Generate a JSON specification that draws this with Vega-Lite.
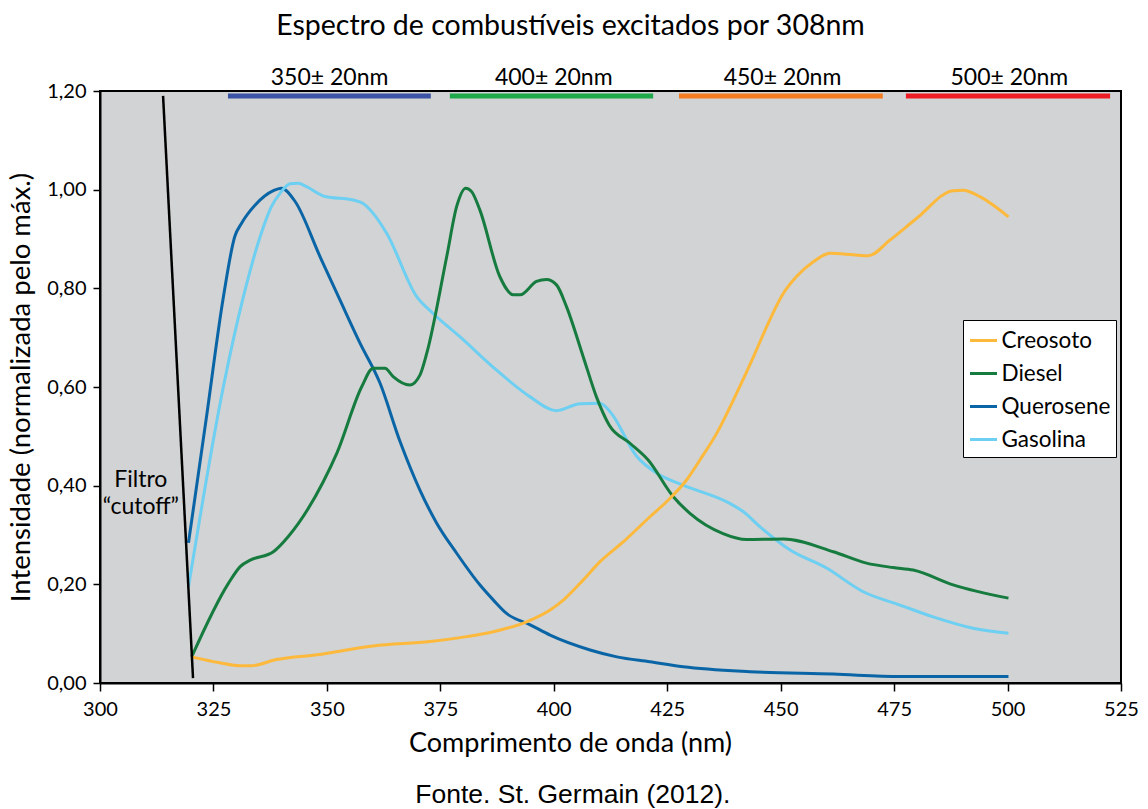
{
  "$schema": "https://vega.github.io/schema/vega-lite/v6.json",
  "width": 1021,
  "height": 592,
  "autosize": {"type": "none"},
  "padding": {"left": 100, "top": 91, "right": 27, "bottom": 126},
  "background": "white",
  "title": {
    "text": "Espectro de combustíveis excitados por 308nm",
    "font": "Lato",
    "fontSize": 28.5,
    "fontWeight": "normal",
    "color": "black",
    "anchor": "middle",
    "frame": "group",
    "dx": -40,
    "offset": 27
  },
  "config": {
    "view": {"fill": "#D1D3D4", "stroke": "black", "strokeWidth": 2},
    "axis": {
      "labelFont": "Lato",
      "titleFont": "Lato",
      "labelColor": "black",
      "titleColor": "black",
      "domainColor": "black",
      "tickColor": "black",
      "grid": false,
      "titleFontWeight": "normal"
    }
  },
  "datasets": {
    "spectra": [
      {"comb": "Querosene", "nm": 319.5, "int": 0.284},
      {"comb": "Querosene", "nm": 323.4, "int": 0.535},
      {"comb": "Querosene", "nm": 327.2, "int": 0.783},
      {"comb": "Querosene", "nm": 329.7, "int": 0.905},
      {"comb": "Querosene", "nm": 331.2, "int": 0.932},
      {"comb": "Querosene", "nm": 334.2, "int": 0.969},
      {"comb": "Querosene", "nm": 338.2, "int": 0.998},
      {"comb": "Querosene", "nm": 340.0, "int": 1.003},
      {"comb": "Querosene", "nm": 343.0, "int": 0.976},
      {"comb": "Querosene", "nm": 348.5, "int": 0.864},
      {"comb": "Querosene", "nm": 352.9, "int": 0.776},
      {"comb": "Querosene", "nm": 357.3, "int": 0.689},
      {"comb": "Querosene", "nm": 361.7, "int": 0.608},
      {"comb": "Querosene", "nm": 366.1, "int": 0.490},
      {"comb": "Querosene", "nm": 370.5, "int": 0.391},
      {"comb": "Querosene", "nm": 374.2, "int": 0.324},
      {"comb": "Querosene", "nm": 378.6, "int": 0.263},
      {"comb": "Querosene", "nm": 383.7, "int": 0.199},
      {"comb": "Querosene", "nm": 386.7, "int": 0.168},
      {"comb": "Querosene", "nm": 389.6, "int": 0.141},
      {"comb": "Querosene", "nm": 394.8, "int": 0.118},
      {"comb": "Querosene", "nm": 399.2, "int": 0.097},
      {"comb": "Querosene", "nm": 408.0, "int": 0.067},
      {"comb": "Querosene", "nm": 413.9, "int": 0.053},
      {"comb": "Querosene", "nm": 421.2, "int": 0.043},
      {"comb": "Querosene", "nm": 428.5, "int": 0.033},
      {"comb": "Querosene", "nm": 443.2, "int": 0.023},
      {"comb": "Querosene", "nm": 461.6, "int": 0.018},
      {"comb": "Querosene", "nm": 476.3, "int": 0.013},
      {"comb": "Querosene", "nm": 500.2, "int": 0.013},
      {"comb": "Gasolina", "nm": 319.5, "int": 0.195},
      {"comb": "Gasolina", "nm": 327.2, "int": 0.601},
      {"comb": "Gasolina", "nm": 331.6, "int": 0.783},
      {"comb": "Gasolina", "nm": 335.3, "int": 0.905},
      {"comb": "Gasolina", "nm": 337.8, "int": 0.966},
      {"comb": "Gasolina", "nm": 339.7, "int": 0.993},
      {"comb": "Gasolina", "nm": 341.9, "int": 1.012},
      {"comb": "Gasolina", "nm": 343.7, "int": 1.013},
      {"comb": "Gasolina", "nm": 345.5, "int": 1.006},
      {"comb": "Gasolina", "nm": 349.6, "int": 0.986},
      {"comb": "Gasolina", "nm": 355.8, "int": 0.979},
      {"comb": "Gasolina", "nm": 358.0, "int": 0.972},
      {"comb": "Gasolina", "nm": 360.2, "int": 0.952},
      {"comb": "Gasolina", "nm": 363.2, "int": 0.911},
      {"comb": "Gasolina", "nm": 369.8, "int": 0.783},
      {"comb": "Gasolina", "nm": 373.4, "int": 0.749},
      {"comb": "Gasolina", "nm": 379.3, "int": 0.702},
      {"comb": "Gasolina", "nm": 387.4, "int": 0.634},
      {"comb": "Gasolina", "nm": 394.8, "int": 0.580},
      {"comb": "Gasolina", "nm": 400.6, "int": 0.552},
      {"comb": "Gasolina", "nm": 405.8, "int": 0.566},
      {"comb": "Gasolina", "nm": 410.2, "int": 0.567},
      {"comb": "Gasolina", "nm": 412.4, "int": 0.550},
      {"comb": "Gasolina", "nm": 418.3, "int": 0.459},
      {"comb": "Gasolina", "nm": 422.7, "int": 0.425},
      {"comb": "Gasolina", "nm": 428.5, "int": 0.401},
      {"comb": "Gasolina", "nm": 438.8, "int": 0.364},
      {"comb": "Gasolina", "nm": 441.8, "int": 0.347},
      {"comb": "Gasolina", "nm": 445.4, "int": 0.317},
      {"comb": "Gasolina", "nm": 452.0, "int": 0.270},
      {"comb": "Gasolina", "nm": 460.1, "int": 0.233},
      {"comb": "Gasolina", "nm": 468.2, "int": 0.185},
      {"comb": "Gasolina", "nm": 476.3, "int": 0.158},
      {"comb": "Gasolina", "nm": 483.6, "int": 0.134},
      {"comb": "Gasolina", "nm": 492.4, "int": 0.111},
      {"comb": "Gasolina", "nm": 500.2, "int": 0.101},
      {"comb": "Diesel", "nm": 320.2, "int": 0.053},
      {"comb": "Diesel", "nm": 328.3, "int": 0.202},
      {"comb": "Diesel", "nm": 330.9, "int": 0.236},
      {"comb": "Diesel", "nm": 333.1, "int": 0.249},
      {"comb": "Diesel", "nm": 338.2, "int": 0.266},
      {"comb": "Diesel", "nm": 341.5, "int": 0.297},
      {"comb": "Diesel", "nm": 349.2, "int": 0.408},
      {"comb": "Diesel", "nm": 352.2, "int": 0.466},
      {"comb": "Diesel", "nm": 357.7, "int": 0.601},
      {"comb": "Diesel", "nm": 360.2, "int": 0.638},
      {"comb": "Diesel", "nm": 362.8, "int": 0.638},
      {"comb": "Diesel", "nm": 364.6, "int": 0.621},
      {"comb": "Diesel", "nm": 368.3, "int": 0.604},
      {"comb": "Diesel", "nm": 370.5, "int": 0.624},
      {"comb": "Diesel", "nm": 372.0, "int": 0.668},
      {"comb": "Diesel", "nm": 376.4, "int": 0.864},
      {"comb": "Diesel", "nm": 378.6, "int": 0.966},
      {"comb": "Diesel", "nm": 380.6, "int": 1.003},
      {"comb": "Diesel", "nm": 381.9, "int": 0.996},
      {"comb": "Diesel", "nm": 383.7, "int": 0.959},
      {"comb": "Diesel", "nm": 388.1, "int": 0.824},
      {"comb": "Diesel", "nm": 391.1, "int": 0.787},
      {"comb": "Diesel", "nm": 392.6, "int": 0.787},
      {"comb": "Diesel", "nm": 396.2, "int": 0.814},
      {"comb": "Diesel", "nm": 398.4, "int": 0.818},
      {"comb": "Diesel", "nm": 400.6, "int": 0.807},
      {"comb": "Diesel", "nm": 402.8, "int": 0.763},
      {"comb": "Diesel", "nm": 406.5, "int": 0.661},
      {"comb": "Diesel", "nm": 409.4, "int": 0.580},
      {"comb": "Diesel", "nm": 412.2, "int": 0.523},
      {"comb": "Diesel", "nm": 416.8, "int": 0.486},
      {"comb": "Diesel", "nm": 420.8, "int": 0.452},
      {"comb": "Diesel", "nm": 426.3, "int": 0.378},
      {"comb": "Diesel", "nm": 430.0, "int": 0.344},
      {"comb": "Diesel", "nm": 437.3, "int": 0.303},
      {"comb": "Diesel", "nm": 442.5, "int": 0.291},
      {"comb": "Diesel", "nm": 450.6, "int": 0.292},
      {"comb": "Diesel", "nm": 461.6, "int": 0.266},
      {"comb": "Diesel", "nm": 468.9, "int": 0.243},
      {"comb": "Diesel", "nm": 474.8, "int": 0.234},
      {"comb": "Diesel", "nm": 479.2, "int": 0.229},
      {"comb": "Diesel", "nm": 488.0, "int": 0.199},
      {"comb": "Diesel", "nm": 500.2, "int": 0.172},
      {"comb": "Creosoto", "nm": 320.2, "int": 0.053},
      {"comb": "Creosoto", "nm": 326.4, "int": 0.041},
      {"comb": "Creosoto", "nm": 330.9, "int": 0.035},
      {"comb": "Creosoto", "nm": 333.4, "int": 0.035},
      {"comb": "Creosoto", "nm": 338.6, "int": 0.047},
      {"comb": "Creosoto", "nm": 349.2, "int": 0.059},
      {"comb": "Creosoto", "nm": 354.4, "int": 0.067},
      {"comb": "Creosoto", "nm": 360.2, "int": 0.075},
      {"comb": "Creosoto", "nm": 372.7, "int": 0.084},
      {"comb": "Creosoto", "nm": 380.8, "int": 0.094},
      {"comb": "Creosoto", "nm": 386.7, "int": 0.104},
      {"comb": "Creosoto", "nm": 394.0, "int": 0.124},
      {"comb": "Creosoto", "nm": 399.2, "int": 0.148},
      {"comb": "Creosoto", "nm": 402.1, "int": 0.168},
      {"comb": "Creosoto", "nm": 406.5, "int": 0.209},
      {"comb": "Creosoto", "nm": 410.2, "int": 0.246},
      {"comb": "Creosoto", "nm": 415.3, "int": 0.286},
      {"comb": "Creosoto", "nm": 421.2, "int": 0.337},
      {"comb": "Creosoto", "nm": 424.9, "int": 0.368},
      {"comb": "Creosoto", "nm": 429.3, "int": 0.412},
      {"comb": "Creosoto", "nm": 432.2, "int": 0.452},
      {"comb": "Creosoto", "nm": 435.9, "int": 0.506},
      {"comb": "Creosoto", "nm": 439.6, "int": 0.574},
      {"comb": "Creosoto", "nm": 444.0, "int": 0.661},
      {"comb": "Creosoto", "nm": 446.9, "int": 0.722},
      {"comb": "Creosoto", "nm": 450.6, "int": 0.790},
      {"comb": "Creosoto", "nm": 453.5, "int": 0.824},
      {"comb": "Creosoto", "nm": 457.2, "int": 0.854},
      {"comb": "Creosoto", "nm": 460.9, "int": 0.871},
      {"comb": "Creosoto", "nm": 466.0, "int": 0.868},
      {"comb": "Creosoto", "nm": 469.3, "int": 0.866},
      {"comb": "Creosoto", "nm": 474.1, "int": 0.898},
      {"comb": "Creosoto", "nm": 480.0, "int": 0.942},
      {"comb": "Creosoto", "nm": 488.0, "int": 0.998},
      {"comb": "Creosoto", "nm": 490.2, "int": 0.999},
      {"comb": "Creosoto", "nm": 493.9, "int": 0.986},
      {"comb": "Creosoto", "nm": 500.2, "int": 0.945}
    ],
    "bands": [
      {"banda": "350± 20nm", "ini": 328.2, "fim": 372.9, "centro": 350.6, "nivel": 1.19, "rot": 1.226},
      {"banda": "400± 20nm", "ini": 377.1, "fim": 421.9, "centro": 400.0, "nivel": 1.19, "rot": 1.226},
      {"banda": "450± 20nm", "ini": 427.6, "fim": 472.5, "centro": 450.4, "nivel": 1.19, "rot": 1.226},
      {"banda": "500± 20nm", "ini": 477.6, "fim": 522.6, "centro": 500.4, "nivel": 1.19, "rot": 1.226}
    ],
    "filtro": [
      {"xa": 313.9, "ya": 1.19, "xb": 320.5, "yb": 0.01}
    ],
    "notas": [
      {"txt": "Filtro", "nm": 309.0, "int": 0.411},
      {"txt": "“cutoff”", "nm": 309.0, "int": 0.357}
    ],
    "fonte": [
      {"txt": "Fonte. St. Germain (2012).", "nm": 404.2, "int": -0.227}
    ]
  },
  "layer": [
    {
      "data": {"name": "spectra"},
      "mark": {"type": "line", "strokeWidth": 3, "interpolate": "monotone", "clip": true},
      "encoding": {
        "x": {
          "field": "nm", "type": "quantitative",
          "scale": {"domain": [300, 525], "nice": false, "zero": false},
          "axis": {
            "title": "Comprimento de onda (nm)",
            "values": [300, 325, 350, 375, 400, 425, 450, 475, 500, 525],
            "tickSize": 8, "tickWidth": 1.5, "domainWidth": 2,
            "labelFontSize": 20, "labelPadding": 8, "labelFlush": false,
            "titleFontSize": 27, "titlePadding": 11, "titleX": 470
          }
        },
        "y": {
          "field": "int", "type": "quantitative",
          "scale": {"domain": [0, 1.2], "nice": false},
          "axis": {
            "title": "Intensidade (normalizada pelo máx.)",
            "values": [0, 0.2, 0.4, 0.6, 0.8, 1.0, 1.2],
            "labelExpr": "replace(format(datum.value, '.2f'), '.', ',')",
            "labelFlush": false,
            "tickSize": 7, "tickWidth": 1.5, "domainWidth": 2,
            "labelFontSize": 20, "labelPadding": 7,
            "titleFontSize": 27.5, "titlePadding": 11
          }
        },
        "color": {
          "field": "comb", "type": "nominal",
          "scale": {
            "domain": ["Creosoto", "Diesel", "Querosene", "Gasolina"],
            "range": ["#FDB93C", "#167B3E", "#0A65A6", "#6DCFF1"]
          },
          "legend": {
            "title": null,
            "orient": "none",
            "legendX": 863,
            "legendY": 229,
            "symbolType": "stroke",
            "symbolStrokeWidth": 3,
            "symbolSize": 729,
            "labelFont": "Lato",
            "labelFontSize": 22.5,
            "labelColor": "black",
            "labelOffset": 3,
            "rowPadding": 6,
            "padding": 5.5,
            "fillColor": "white",
            "strokeColor": "black"
          }
        }
      }
    },
    {
      "data": {"name": "bands"},
      "mark": {"type": "rule", "strokeWidth": 5},
      "encoding": {
        "x": {"field": "ini", "type": "quantitative"},
        "x2": {"field": "fim"},
        "y": {"field": "nivel", "type": "quantitative"},
        "color": {
          "field": "banda", "type": "nominal",
          "scale": {
            "domain": ["350± 20nm", "400± 20nm", "450± 20nm", "500± 20nm"],
            "range": ["#3A53A4", "#1EAA4B", "#F47B20", "#ED1C24"]
          },
          "legend": null
        }
      }
    },
    {
      "data": {"name": "bands"},
      "mark": {"type": "text", "font": "Lato", "fontSize": 23, "color": "black", "baseline": "middle", "align": "center"},
      "encoding": {
        "x": {"field": "centro", "type": "quantitative"},
        "y": {"field": "rot", "type": "quantitative"},
        "text": {"field": "banda"}
      }
    },
    {
      "data": {"name": "filtro"},
      "mark": {"type": "rule", "strokeWidth": 2.5, "color": "black"},
      "encoding": {
        "x": {"field": "xa", "type": "quantitative"},
        "x2": {"field": "xb"},
        "y": {"field": "ya", "type": "quantitative"},
        "y2": {"field": "yb"}
      }
    },
    {
      "data": {"name": "notas"},
      "mark": {"type": "text", "font": "Lato", "fontSize": 23, "color": "black", "baseline": "middle", "align": "center"},
      "encoding": {
        "x": {"field": "nm", "type": "quantitative"},
        "y": {"field": "int", "type": "quantitative"},
        "text": {"field": "txt"}
      }
    },
    {
      "data": {"name": "fonte"},
      "mark": {"type": "text", "font": "Liberation Sans", "fontSize": 26.5, "color": "black", "baseline": "middle", "align": "center"},
      "encoding": {
        "x": {"field": "nm", "type": "quantitative"},
        "y": {"field": "int", "type": "quantitative"},
        "text": {"field": "txt"}
      }
    }
  ],
  "resolve": {"scale": {"color": "independent"}}
}
